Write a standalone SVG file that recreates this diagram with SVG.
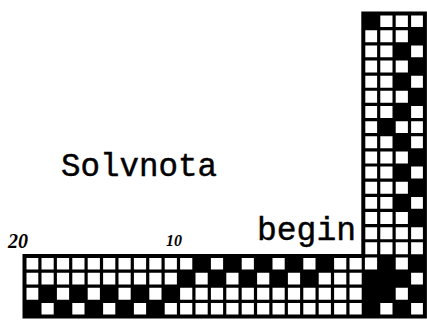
<svg xmlns="http://www.w3.org/2000/svg" width="427" height="320" viewBox="0 0 427 320">
<style>
.bg{fill:#fff}
.cell{fill:#000}
.grid{fill:none;stroke:#000;stroke-width:3.2}
.outline{fill:none;stroke:#000;stroke-width:4;stroke-linejoin:miter}
.type{font-family:"Liberation Mono","DejaVu Sans Mono",monospace;fill:#000;stroke:#000;stroke-width:0.45}
.hand{font-family:"Liberation Serif",serif;font-style:italic;font-weight:bold;fill:#000}
</style>
<rect class="bg" x="0" y="0" width="427" height="320"/>
<g id="vertical-strip">
<rect class="cell" x="363.3" y="13.5" width="15.4" height="15.15"/>
<rect class="cell" x="409.5" y="28.65" width="15.4" height="15.15"/>
<rect class="cell" x="394.1" y="43.8" width="15.4" height="15.15"/>
<rect class="cell" x="409.5" y="58.95" width="15.4" height="15.15"/>
<rect class="cell" x="394.1" y="74.1" width="15.4" height="15.15"/>
<rect class="cell" x="409.5" y="89.25" width="15.4" height="15.15"/>
<rect class="cell" x="394.1" y="104.4" width="15.4" height="15.15"/>
<rect class="cell" x="378.7" y="119.55" width="15.4" height="15.15"/>
<rect class="cell" x="394.1" y="134.7" width="15.4" height="15.15"/>
<rect class="cell" x="409.5" y="149.85" width="15.4" height="15.15"/>
<rect class="cell" x="394.1" y="165" width="15.4" height="15.15"/>
<rect class="cell" x="409.5" y="180.15" width="15.4" height="15.15"/>
<rect class="cell" x="394.1" y="195.3" width="15.4" height="15.15"/>
<rect class="cell" x="409.5" y="210.45" width="15.4" height="15.15"/>
</g>
<g id="bottom-strip">
<rect class="cell" x="193.9" y="255.9" width="15.4" height="15.15"/>
<rect class="cell" x="224.7" y="255.9" width="15.4" height="15.15"/>
<rect class="cell" x="255.5" y="255.9" width="15.4" height="15.15"/>
<rect class="cell" x="286.3" y="255.9" width="15.4" height="15.15"/>
<rect class="cell" x="317.1" y="255.9" width="15.4" height="15.15"/>
<rect class="cell" x="378.7" y="255.9" width="15.4" height="15.15"/>
<rect class="cell" x="409.5" y="255.9" width="15.4" height="15.15"/>
<rect class="cell" x="178.5" y="271.05" width="15.4" height="15.15"/>
<rect class="cell" x="209.3" y="271.05" width="15.4" height="15.15"/>
<rect class="cell" x="240.1" y="271.05" width="15.4" height="15.15"/>
<rect class="cell" x="270.9" y="271.05" width="15.4" height="15.15"/>
<rect class="cell" x="301.7" y="271.05" width="15.4" height="15.15"/>
<rect class="cell" x="363.3" y="271.05" width="15.4" height="15.15"/>
<rect class="cell" x="378.7" y="271.05" width="15.4" height="15.15"/>
<rect class="cell" x="394.1" y="271.05" width="15.4" height="15.15"/>
<rect class="cell" x="39.9" y="286.2" width="15.4" height="15.15"/>
<rect class="cell" x="70.7" y="286.2" width="15.4" height="15.15"/>
<rect class="cell" x="101.5" y="286.2" width="15.4" height="15.15"/>
<rect class="cell" x="132.3" y="286.2" width="15.4" height="15.15"/>
<rect class="cell" x="163.1" y="286.2" width="15.4" height="15.15"/>
<rect class="cell" x="363.3" y="286.2" width="15.4" height="15.15"/>
<rect class="cell" x="378.7" y="286.2" width="15.4" height="15.15"/>
<rect class="cell" x="409.5" y="286.2" width="15.4" height="15.15"/>
<rect class="cell" x="24.5" y="301.35" width="15.4" height="15.15"/>
<rect class="cell" x="55.3" y="301.35" width="15.4" height="15.15"/>
<rect class="cell" x="86.1" y="301.35" width="15.4" height="15.15"/>
<rect class="cell" x="116.9" y="301.35" width="15.4" height="15.15"/>
<rect class="cell" x="147.7" y="301.35" width="15.4" height="15.15"/>
<rect class="cell" x="363.3" y="301.35" width="15.4" height="15.15"/>
<rect class="cell" x="394.1" y="301.35" width="15.4" height="15.15"/>
</g>
<g id="grid-lines">
<path class="grid" d="M363.3 28.65H424.9M363.3 43.8H424.9M363.3 58.95H424.9M363.3 74.1H424.9M363.3 89.25H424.9M363.3 104.4H424.9M363.3 119.55H424.9M363.3 134.7H424.9M363.3 149.85H424.9M363.3 165H424.9M363.3 180.15H424.9M363.3 195.3H424.9M363.3 210.45H424.9M363.3 225.6H424.9M363.3 240.75H424.9M363.3 255.9H424.9M24.5 271.05H424.9M24.5 286.2H424.9M24.5 301.35H424.9M39.9 255.9V316.5M55.3 255.9V316.5M70.7 255.9V316.5M86.1 255.9V316.5M101.5 255.9V316.5M116.9 255.9V316.5M132.3 255.9V316.5M147.7 255.9V316.5M163.1 255.9V316.5M178.5 255.9V316.5M193.9 255.9V316.5M209.3 255.9V316.5M224.7 255.9V316.5M240.1 255.9V316.5M255.5 255.9V316.5M270.9 255.9V316.5M286.3 255.9V316.5M301.7 255.9V316.5M317.1 255.9V316.5M332.5 255.9V316.5M347.9 255.9V316.5M363.3 255.9V316.5M378.7 13.5V316.5M394.1 13.5V316.5M409.5 13.5V316.5"/>
<path class="outline" d="M363.3 13.5H424.9V316.5H24.5V255.9H363.3Z"/>
</g>
<g id="labels">
<text class="type" x="61" y="176" font-size="32.5">Solvnota</text>
<text class="type" x="257" y="240" font-size="33">begin</text>
<text class="hand" x="8" y="248" font-size="20">20</text>
<text class="hand" x="166" y="246" font-size="16">10</text>
</g>
</svg>
